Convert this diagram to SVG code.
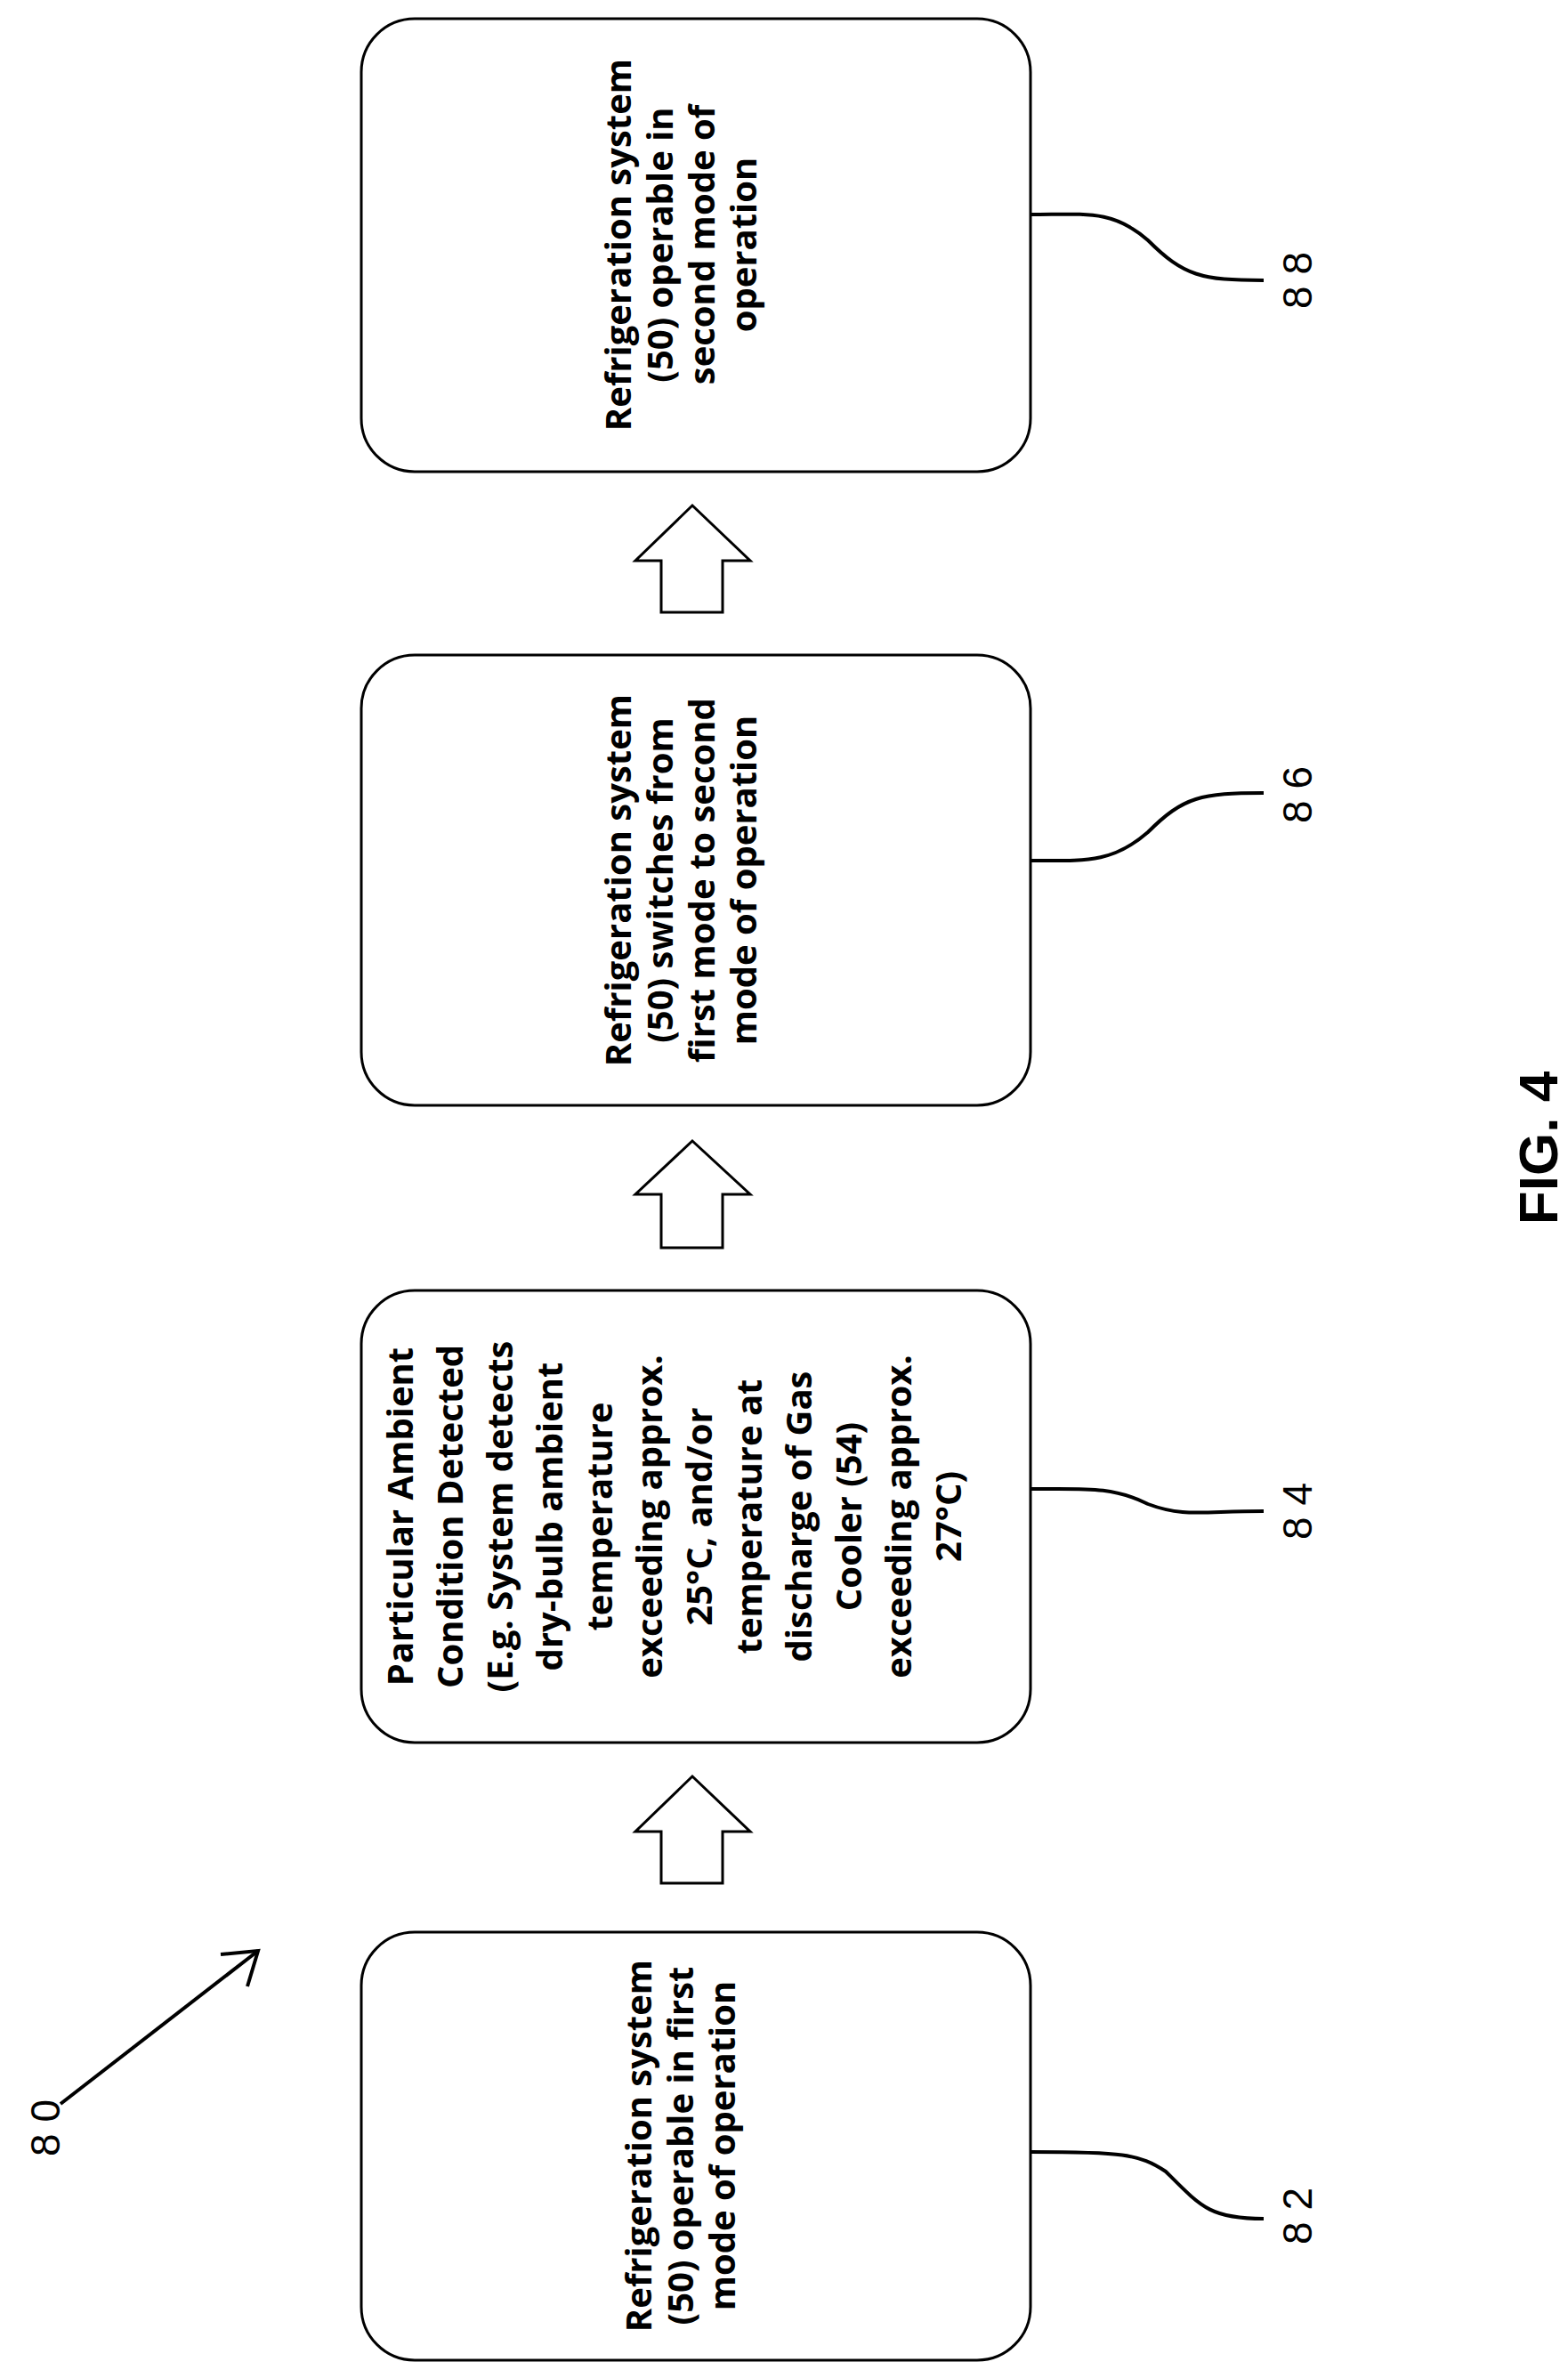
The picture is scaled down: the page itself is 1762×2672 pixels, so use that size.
<svg xmlns="http://www.w3.org/2000/svg" width="1762" height="2672" viewBox="0 0 1762 2672">
<style>
.box{fill:#fff;stroke:#000;stroke-width:3}
.t{font-family:"Open Sans","Liberation Sans",sans-serif;font-weight:bold;font-size:40px;text-anchor:middle}
.n{font-family:"Liberation Sans",sans-serif;font-size:46px;text-anchor:middle}
.l{fill:none;stroke:#000;stroke-width:4}
.ar{fill:#fff;stroke:#000;stroke-width:3}
</style>
<rect width="1762" height="2672" fill="#fff"/>
<g id="n88"><rect class="box" x="406" y="21" width="752" height="509" rx="60"/>
<text class="t" transform="translate(765,275) rotate(-90)"><tspan x="0" y="-56">Refrigeration system</tspan><tspan x="0" y="-9">(50) operable in</tspan><tspan x="0" y="38">second mode of</tspan><tspan x="0" y="85">operation</tspan></text></g>
<g id="n86"><rect class="box" x="406" y="736" width="752" height="506" rx="60"/>
<text class="t" transform="translate(765,989) rotate(-90)"><tspan x="0" y="-56">Refrigeration system</tspan><tspan x="0" y="-9">(50) switches from</tspan><tspan x="0" y="38">first mode to second</tspan><tspan x="0" y="85">mode of operation</tspan></text></g>
<g id="n84"><rect class="box" x="406" y="1450" width="752" height="508" rx="60"/>
<text class="t" transform="translate(758,1704) rotate(-90)"><tspan x="0" y="-294">Particular Ambient</tspan><tspan x="0" y="-238">Condition Detected</tspan><tspan x="0" y="-182">(E.g. System detects</tspan><tspan x="0" y="-126">dry-bulb ambient</tspan><tspan x="0" y="-70">temperature</tspan><tspan x="0" y="-14">exceeding approx.</tspan><tspan x="0" y="42">25°C, and/or</tspan><tspan x="0" y="98">temperature at</tspan><tspan x="0" y="154">discharge of Gas</tspan><tspan x="0" y="210">Cooler (54)</tspan><tspan x="0" y="266">exceeding approx.</tspan><tspan x="0" y="322">27°C)</tspan></text></g>
<g id="n82"><rect class="box" x="406" y="2171" width="752" height="481" rx="60"/>
<text class="t" transform="translate(765,2411) rotate(-90)"><tspan x="0" y="-33">Refrigeration system</tspan><tspan x="0" y="14">(50) operable in first</tspan><tspan x="0" y="61">mode of operation</tspan></text></g>
<g id="connectors">
<path class="ar" d="M778,568 L843,630 L812,630 L812,688 L743,688 L743,630 L714,630 Z"/>
<path class="ar" d="M778,1282 L843,1342 L812,1342 L812,1402 L743,1402 L743,1342 L714,1342 Z"/>
<path class="ar" d="M778,1996 L843,2058 L812,2058 L812,2116 L743,2116 L743,2058 L714,2058 Z"/>
<path class="l" d="M1158,241 C1220,241 1250,235 1290,270 C1330,310 1350,315 1420,315"/>
<path class="l" d="M1158,967 C1220,967 1250,970 1290,935 C1330,895 1350,891 1420,891"/>
<path class="l" d="M1158,1673 C1220,1673 1250,1670 1290,1690 C1330,1705 1350,1698 1420,1698"/>
<path class="l" d="M1158,2418 C1260,2418 1280,2420 1310,2440 C1350,2480 1360,2493 1420,2493"/>
<path class="l" d="M68,2364 L290,2192"/>
<path class="l" d="M248,2196 L290,2192 L278,2232"/>
</g>
<g id="labels">
<text class="n" transform="translate(1474,315) rotate(-90)">8 8</text>
<text class="n" transform="translate(1474,893) rotate(-90)">8 6</text>
<text class="n" transform="translate(1474,1698) rotate(-90)">8 4</text>
<text class="n" transform="translate(1474,2490) rotate(-90)">8 2</text>
<text class="n" transform="translate(67,2391) rotate(-90)">8 0</text>
<text transform="translate(1750,1290) rotate(-90)" style="font-family:'Liberation Sans',sans-serif;font-weight:bold;font-size:62px;text-anchor:middle">FIG. 4</text>
</g>
</svg>
